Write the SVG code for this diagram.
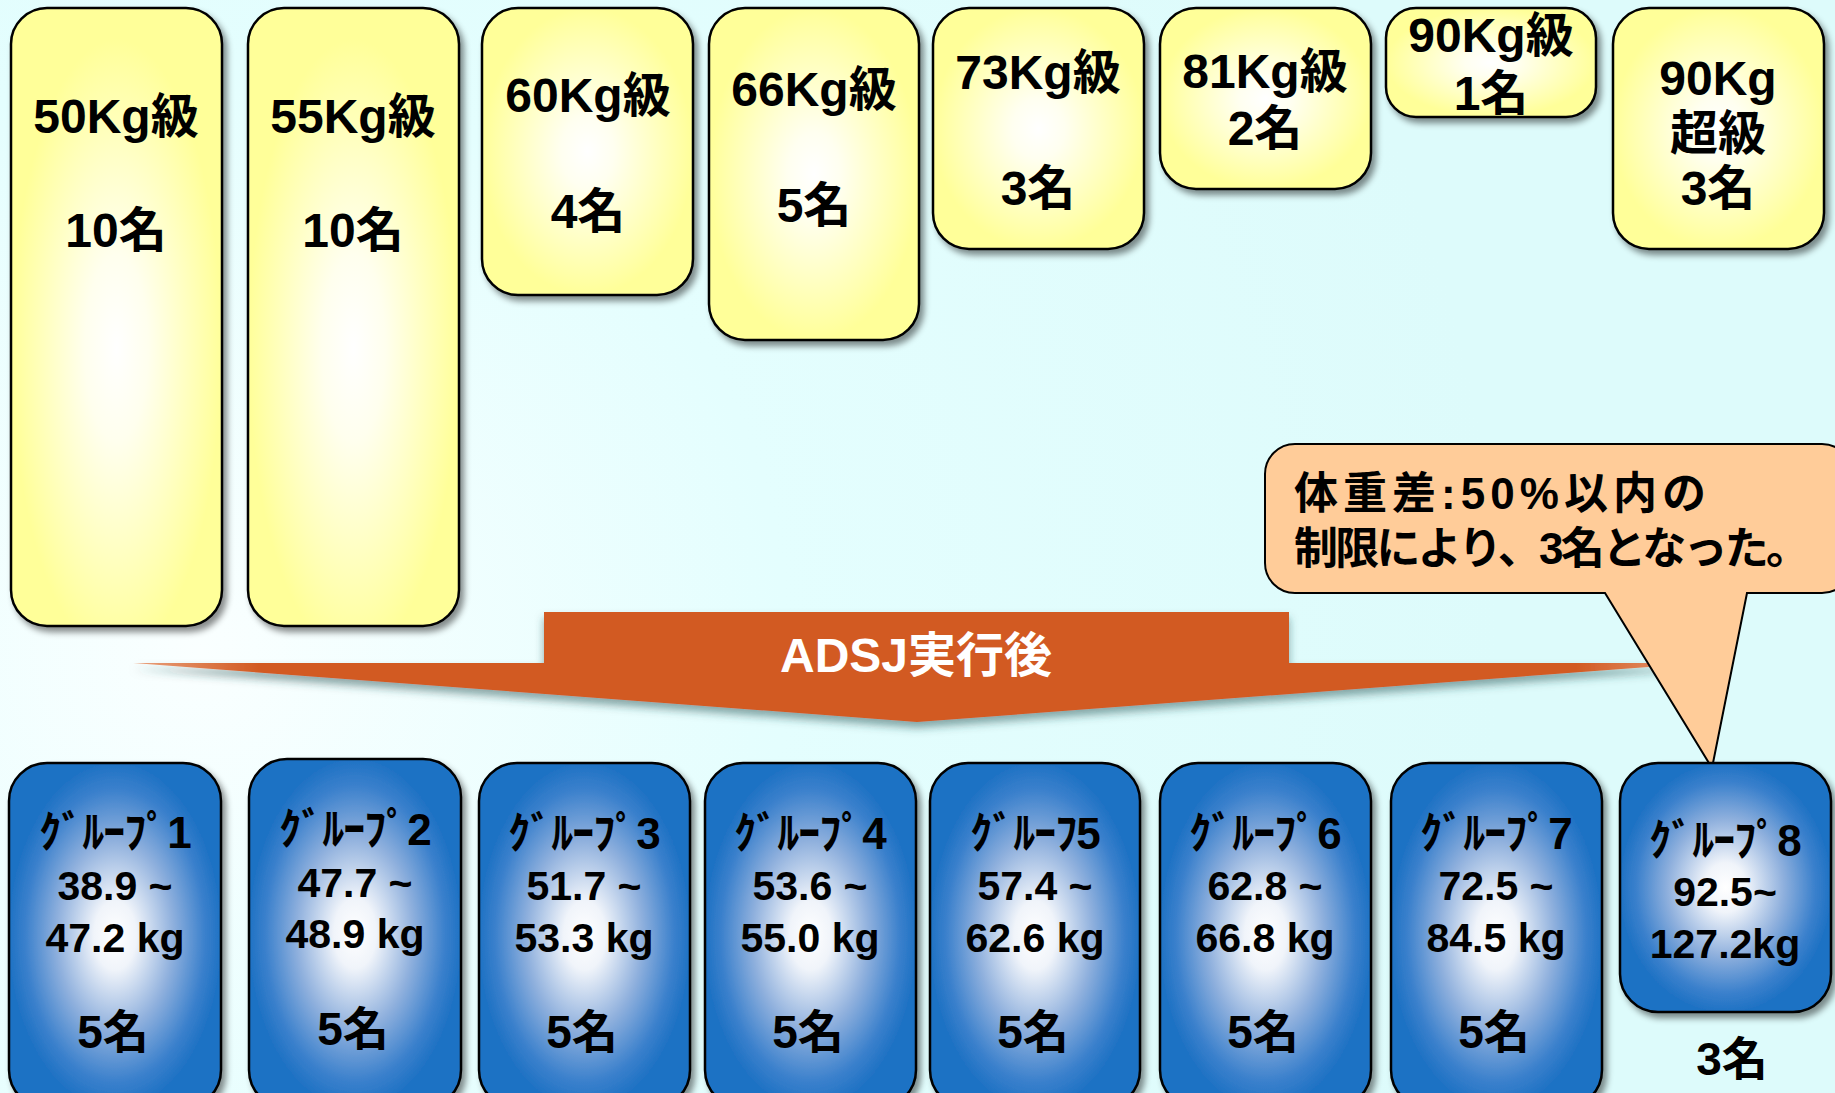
<svg xmlns="http://www.w3.org/2000/svg" width="1835" height="1093" viewBox="0 0 1835 1093">
<defs>
<radialGradient id="bg" gradientUnits="userSpaceOnUse" cx="200" cy="650" r="1300">
<stop offset="0" stop-color="#FAFFFF"/>
<stop offset="0.45" stop-color="#E4FEFE"/>
<stop offset="1" stop-color="#DDFBFB"/>
</radialGradient>
<radialGradient id="yel" cx="0.5" cy="0.5" r="0.5">
<stop offset="0" stop-color="#FFFFFF"/>
<stop offset="0.25" stop-color="#FFFFF0"/>
<stop offset="1" stop-color="#FFFF99"/>
</radialGradient>
<radialGradient id="yelTall" cx="0.5" cy="0.55" r="0.5" fx="0.5" fy="0.55">
<stop offset="0" stop-color="#FFFFFF"/>
<stop offset="0.3" stop-color="#FFFFEE"/>
<stop offset="1" stop-color="#FFFF99"/>
</radialGradient>
<radialGradient id="blu" cx="0.5" cy="0.5" r="0.5">
<stop offset="0" stop-color="#FFFFFF"/>
<stop offset="0.2" stop-color="#F0F4FA"/>
<stop offset="0.55" stop-color="#8FB0DD"/>
<stop offset="0.85" stop-color="#3A80CC"/>
<stop offset="1" stop-color="#1F72C4"/>
</radialGradient>
<linearGradient id="arr" x1="0" y1="0" x2="1" y2="0">
<stop offset="0" stop-color="#E9A27E"/>
<stop offset="0.08" stop-color="#D25A22"/>
<stop offset="0.92" stop-color="#D25A22"/>
<stop offset="1" stop-color="#E9A27E"/>
</linearGradient>
<filter id="sh" x="-10%" y="-10%" width="125%" height="125%">
<feDropShadow dx="4" dy="5" stdDeviation="3" flood-color="#000" flood-opacity="0.45"/>
</filter>
<filter id="ash" x="-5%" y="-20%" width="110%" height="150%">
<feDropShadow dx="0" dy="6" stdDeviation="4" flood-color="#1E5050" flood-opacity="0.5"/>
</filter>
<style>
.yb{fill:url(#yel);stroke:#000;stroke-width:2.5;filter:url(#sh)}
.yt{fill:url(#yelTall);stroke:#000;stroke-width:2.5;filter:url(#sh)}
.bb{fill:url(#blu);stroke:#000;stroke-width:2.5;filter:url(#sh)}
text{font-family:"Liberation Sans","Noto Sans CJK JP",sans-serif;font-weight:bold;fill:#000;text-anchor:middle}
.t48{font-size:48px}
.k{font-size:44px;letter-spacing:-1px}
.n{font-size:41px}
.m{font-size:46px}
.w{fill:#FFFFFF;font-size:48px}
.c{font-size:44px;text-anchor:start}
</style>
</defs>
<rect x="0" y="0" width="1835" height="1093" fill="url(#bg)"/>

<g id="w50"><rect class="yt" x="11" y="8" width="211" height="618" rx="36"/><text class="t48" x="116" y="133">50Kg級</text><text class="t48" x="116" y="247">10名</text></g>
<g id="w55"><rect class="yt" x="248" y="8" width="211" height="618" rx="36"/><text class="t48" x="353" y="133">55Kg級</text><text class="t48" x="353" y="247">10名</text></g>
<g id="w60"><rect class="yb" x="482" y="8" width="211" height="287" rx="36"/><text class="t48" x="588" y="112">60Kg級</text><text class="t48" x="588" y="228">4名</text></g>
<g id="w66"><rect class="yb" x="709" y="8" width="210" height="332" rx="36"/><text class="t48" x="814" y="106">66Kg級</text><text class="t48" x="814" y="222">5名</text></g>
<g id="w73"><rect class="yb" x="933" y="8" width="211" height="241" rx="36"/><text class="t48" x="1038" y="89">73Kg級</text><text class="t48" x="1038" y="205">3名</text></g>
<g id="w81"><rect class="yb" x="1160" y="8" width="211" height="181" rx="36"/><text class="t48" x="1265" y="88">81Kg級</text><text class="t48" x="1265" y="145">2名</text></g>
<g id="w90"><rect class="yb" x="1386" y="8" width="210" height="109" rx="30"/><text class="t48" x="1491" y="52">90Kg級</text><text class="t48" x="1491" y="110">1名</text></g>
<g id="w90plus"><rect class="yb" x="1613" y="8" width="211" height="241" rx="36"/><text class="t48" x="1718" y="95">90Kg</text><text class="t48" x="1718" y="150">超級</text><text class="t48" x="1718" y="205">3名</text></g>

<g id="connectors">
<path d="M544,612 L1289,612 L1289,663 L1702,663 L917,722 L133,663 L544,663 Z" fill="url(#arr)" filter="url(#ash)"/>
</g>
<text class="w" x="916" y="672">ADSJ実行後</text>

<g id="callout">
<path d="M1295,444 L1822,444 A30,30 0 0 1 1852,474 L1852,563 A30,30 0 0 1 1822,593 L1747,593 L1712,768 L1605,593 L1295,593 A30,30 0 0 1 1265,563 L1265,474 A30,30 0 0 1 1295,444 Z" fill="#FFCC99" stroke="#000" stroke-width="2"/>
<text class="c" x="1294" y="509" textLength="412" lengthAdjust="spacing">体重差:50%以内の</text>
<text class="c" x="1294" y="564" textLength="516" lengthAdjust="spacing">制限により、3名となった。</text>
</g>

<g id="g1"><rect class="bb" x="9" y="763" width="212" height="345" rx="38"/><text class="k" x="115" y="848">ｸﾞﾙｰﾌﾟ1</text><text class="n" x="115" y="900">38.9 ~</text><text class="n" x="115" y="952">47.2 kg</text><text class="m" x="113" y="1048">5名</text></g>
<g id="g2"><rect class="bb" x="249" y="759" width="212" height="349" rx="38"/><text class="k" x="355" y="845">ｸﾞﾙｰﾌﾟ2</text><text class="n" x="355" y="897">47.7 ~</text><text class="n" x="355" y="948">48.9 kg</text><text class="m" x="353" y="1045">5名</text></g>
<g id="g3"><rect class="bb" x="479" y="763" width="211" height="345" rx="38"/><text class="k" x="584" y="849">ｸﾞﾙｰﾌﾟ3</text><text class="n" x="584" y="900">51.7 ~</text><text class="n" x="584" y="952">53.3 kg</text><text class="m" x="582" y="1048">5名</text></g>
<g id="g4"><rect class="bb" x="705" y="763" width="211" height="345" rx="38"/><text class="k" x="810" y="849">ｸﾞﾙｰﾌﾟ4</text><text class="n" x="810" y="900">53.6 ~</text><text class="n" x="810" y="952">55.0 kg</text><text class="m" x="808" y="1048">5名</text></g>
<g id="g5"><rect class="bb" x="930" y="763" width="210" height="345" rx="38"/><text class="k" x="1035" y="849">ｸﾞﾙｰﾌ5</text><text class="n" x="1035" y="900">57.4 ~</text><text class="n" x="1035" y="952">62.6 kg</text><text class="m" x="1033" y="1048">5名</text></g>
<g id="g6"><rect class="bb" x="1160" y="763" width="211" height="345" rx="38"/><text class="k" x="1265" y="849">ｸﾞﾙｰﾌﾟ6</text><text class="n" x="1265" y="900">62.8 ~</text><text class="n" x="1265" y="952">66.8 kg</text><text class="m" x="1263" y="1048">5名</text></g>
<g id="g7"><rect class="bb" x="1391" y="763" width="211" height="345" rx="38"/><text class="k" x="1496" y="849">ｸﾞﾙｰﾌﾟ7</text><text class="n" x="1496" y="900">72.5 ~</text><text class="n" x="1496" y="952">84.5 kg</text><text class="m" x="1494" y="1048">5名</text></g>
<g id="g8"><rect class="bb" x="1620" y="763" width="211" height="249" rx="38"/><text class="k" x="1725" y="856">ｸﾞﾙｰﾌﾟ8</text><text class="n" x="1725" y="906">92.5~</text><text class="n" x="1725" y="958">127.2kg</text></g>
<text class="m" x="1732" y="1075">3名</text>
</svg>
